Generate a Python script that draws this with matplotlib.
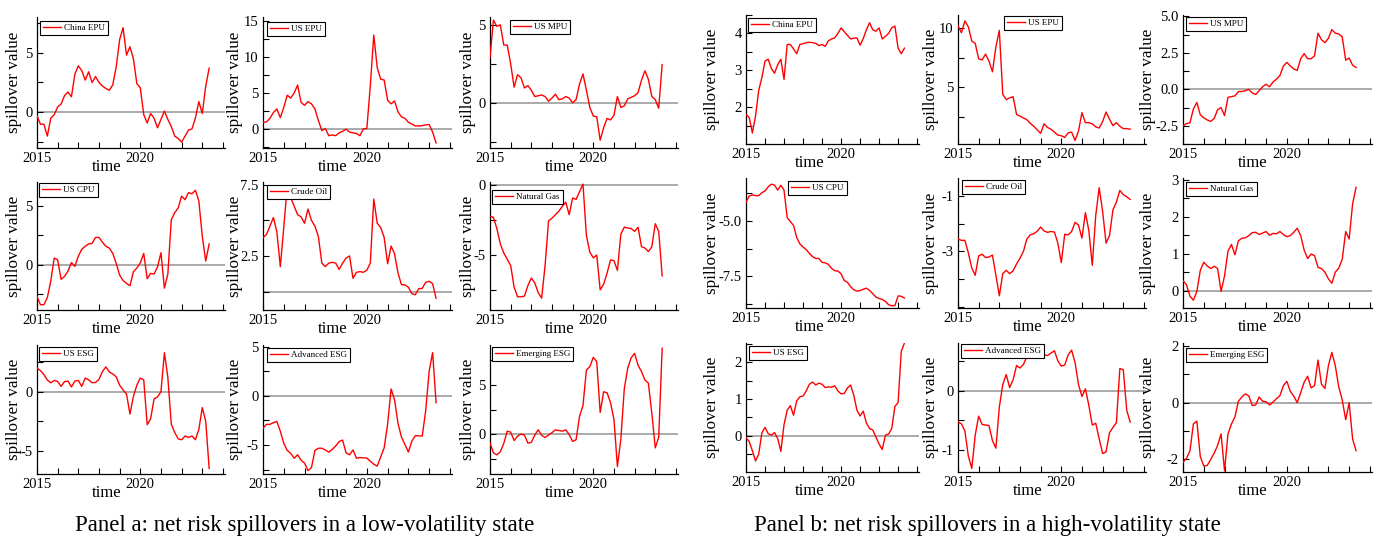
import numpy as np
import matplotlib
matplotlib.use("Agg")
import matplotlib.pyplot as plt
from matplotlib.ticker import FixedLocator, MultipleLocator, FormatStrFormatter

plt.rcParams['font.family'] = ['Liberation Serif', 'DejaVu Serif']
plt.rcParams['axes.unicode_minus'] = False

# ---------------- data: bi-monthly net spillovers, 2015 -> 2023 ----------------
time = 2015 + np.arange(51) / 6.0

# low-volatility state
china_epu_low = [-0.3, -1.0, -1.0, -2.0, -0.5, -0.2, 0.45, 0.7, 1.4, 1.7,
                 1.3, 3.2, 3.9, 3.5, 2.7, 3.4, 2.5, 3.0, 2.5, 2.2,
                 2.0, 1.85, 2.3, 3.8, 6.1, 7.1, 4.8, 5.5, 4.5, 2.4,
                 2.05, -0.2, -0.9, -0.1, -0.5, -1.3, -0.6, 0.1, -0.6, -1.2,
                 -2.0, -2.2, -2.5, -2.0, -1.5, -1.4, -0.5, 0.9, -0.1, 2.2, 3.7]
us_epu_low = [0.95, 1.0, 1.5, 2.3, 2.8, 1.6, 3.0, 4.7, 4.3, 5.0,
              6.1, 3.7, 3.3, 3.8, 3.5, 2.8, 1.2, -0.2, 0.1, -0.9,
              -0.8, -0.9, -0.5, -0.3, 0.0, -0.4, -0.5, -0.6, -0.9, 0.05,
              0.1, 6.0, 13.0, 8.5, 6.9, 6.8, 4.0, 3.5, 3.9, 2.4,
              1.7, 1.5, 0.95, 0.7, 0.45, 0.45, 0.5, 0.6, 0.65, -0.4, -1.9]
us_mpu_low = [2.9, 5.3, 4.9, 5.0, 3.7, 3.7, 2.5, 1.0, 1.8, 1.6,
              0.95, 1.1, 0.8, 0.4, 0.45, 0.5, 0.4, 0.1, 0.3, 0.55,
              0.2, 0.25, 0.4, 0.3, 0.0, 0.2, 1.2, 1.85, 0.8, -0.3,
              -0.85, -0.9, -2.4, -1.6, -1.0, -1.1, -0.8, 0.4, -0.3, -0.2,
              0.25, 0.35, 0.45, 0.65, 1.45, 2.05, 1.5, 0.4, 0.2, -0.35, 2.45]
us_cpu_low = [-2.7, -3.4, -3.4, -2.8, -1.4, 0.55, 0.4, -1.25, -1.0, -0.55,
              0.17, -0.15, 0.7, 1.3, 1.55, 1.75, 1.8, 2.3, 2.3, 1.9,
              1.55, 1.4, 0.95, 0.1, -0.9, -1.35, -1.6, -1.8, -0.6, -0.3,
              0.15, 0.95, -1.2, -0.75, -0.8, -0.2, 1.0, -2.0, -0.8, 3.8,
              4.4, 4.8, 5.8, 5.5, 6.1, 6.0, 6.3, 5.4, 2.4, 0.3, 1.75]
crude_oil_low = [3.8, 4.0, 4.6, 5.2, 4.2, 1.75, 4.5, 7.4, 6.6, 6.0,
                 5.4, 5.25, 4.8, 5.8, 5.0, 4.6, 3.86, 2.0, 1.75, 2.0,
                 2.05, 2.0, 1.55, 2.0, 2.35, 2.5, 0.93, 1.35, 1.4, 1.35,
                 1.5, 2.0, 6.5, 4.8, 4.5, 3.8, 1.95, 3.2, 2.65, 1.3,
                 0.48, 0.47, 0.3, -0.15, -0.23, 0.2, 0.22, 0.65, 0.72, 0.55, -0.48]
natural_gas_low = [-2.2, -2.3, -3.1, -4.2, -4.85, -5.3, -5.75, -7.3, -8.0, -8.0,
                   -7.95, -7.2, -6.65, -7.0, -7.7, -8.1, -5.75, -2.55, -2.35, -2.1,
                   -1.85, -1.5, -1.2, -2.1, -0.9, -1.0, -0.45, 0.1, -3.6, -4.8,
                   -5.2, -5.0, -7.5, -7.1, -6.3, -5.35, -5.4, -6.1, -3.5, -3.0,
                   -3.05, -3.1, -3.3, -3.0, -4.4, -4.5, -4.75, -4.4, -2.75, -3.3, -6.5]
us_esg_low = [2.0, 1.78, 1.45, 0.98, 0.75, 0.95, 0.86, 0.45, 0.85, 0.9,
              0.4, 0.9, 0.95, 0.45, 1.15, 1.0, 0.76, 0.78, 1.04, 1.7,
              2.1, 1.67, 1.5, 1.26, 0.55, 0.15, -0.2, -1.9, -0.4, 0.56,
              1.15, 1.0, -2.8, -2.3, -0.6, -0.45, 0.0, 3.3, 1.2, -2.75,
              -3.45, -4.0, -4.07, -3.75, -3.88, -3.75, -4.07, -3.2, -1.35, -2.5, -6.5]
advanced_esg_low = [-3.3, -2.9, -2.9, -2.73, -2.6, -3.6, -4.83, -5.55, -5.85, -6.35,
                    -6.0, -6.55, -6.85, -7.6, -7.3, -5.55, -5.33, -5.33, -5.5, -5.73,
                    -5.45, -5.1, -4.65, -4.5, -5.8, -6.0, -5.5, -6.35, -6.28, -6.3,
                    -6.33, -6.65, -6.95, -7.15, -6.2, -5.3, -2.9, 0.7, -0.4, -2.8,
                    -4.2, -4.95, -5.72, -4.6, -4.05, -4.07, -4.1, -1.5, 2.5, 4.4, -0.7]
emerging_esg_low = [-0.9, -1.9, -2.1, -1.8, -0.95, 0.3, 0.2, -0.65, -0.2, 0.0,
                    -0.1, -0.91, -0.84, -0.1, 0.44, -0.12, -0.34, -0.1, 0.15, 0.44,
                    0.36, 0.3, 0.44, -0.05, -0.74, -0.57, 1.8, 2.9, 6.5, 6.86,
                    7.8, 7.36, 2.2, 4.3, 4.2, 3.2, 1.5, -3.3, -0.5, 4.6,
                    6.7, 7.75, 8.2, 7.0, 6.35, 5.5, 5.17, 2.1, -1.4, -0.3, 8.72]

# high-volatility state
china_epu_high = [1.8, 1.72, 1.3, 1.75, 2.45, 2.8, 3.25, 3.3, 3.05, 2.92,
                  3.15, 3.3, 2.75, 3.7, 3.7, 3.58, 3.45, 3.7, 3.72, 3.75,
                  3.76, 3.75, 3.73, 3.67, 3.7, 3.65, 3.8, 3.85, 3.88, 4.0,
                  4.15, 4.05, 3.95, 3.85, 3.87, 3.88, 3.68, 3.86, 4.1, 4.29,
                  4.1, 4.06, 4.15, 3.85, 3.92, 4.0, 4.15, 4.2, 3.6, 3.45, 3.6]
us_epu_high = [10.2, 9.6, 10.6, 10.1, 8.9, 8.7, 7.4, 7.3, 7.8, 7.2,
               6.3, 8.4, 9.8, 4.4, 3.95, 4.1, 4.2, 2.7, 2.55, 2.4,
               2.25, 1.95, 1.7, 1.4, 1.1, 1.9, 1.6, 1.45, 1.2, 0.95,
               0.9, 0.75, 1.15, 1.2, 0.5, 1.3, 2.85, 2.0, 2.0, 1.9,
               1.65, 1.55, 2.1, 2.9, 2.3, 1.75, 2.0, 1.7, 1.5, 1.5, 1.45]
us_mpu_high = [-2.5, -2.35, -2.3, -1.35, -0.9, -1.75, -1.95, -2.1, -2.2, -2.0,
               -1.4, -1.25, -1.8, -0.55, -0.5, -0.45, -0.15, -0.15, -0.1, 0.0,
               -0.25, -0.35, -0.1, 0.18, 0.35, 0.18, 0.5, 0.7, 0.95, 1.6,
               1.85, 1.6, 1.4, 1.3, 2.1, 2.45, 2.1, 2.1, 2.3, 3.85,
               3.4, 3.2, 3.5, 4.1, 3.85, 3.8, 3.6, 2.0, 2.15, 1.65, 1.5]
us_cpu_high = [-4.15, -3.87, -3.82, -3.85, -3.85, -3.72, -3.64, -3.45, -3.33, -3.37,
               -3.6, -3.38, -3.6, -4.85, -5.03, -5.2, -5.75, -6.04, -6.18, -6.3,
               -6.47, -6.62, -6.7, -6.7, -6.88, -6.9, -6.97, -7.15, -7.26, -7.27,
               -7.4, -7.7, -7.78, -7.98, -8.12, -8.18, -8.16, -8.1, -8.05, -8.15,
               -8.3, -8.45, -8.52, -8.56, -8.65, -8.8, -8.85, -8.84, -8.4, -8.42, -8.5]
crude_oil_high = [-2.55, -2.6, -2.6, -3.05, -3.6, -3.86, -3.16, -3.1, -3.22, -3.2,
                  -3.13, -3.85, -4.6, -3.8, -3.68, -3.8, -3.7, -3.45, -3.24, -3.0,
                  -2.55, -2.4, -2.36, -2.27, -2.12, -2.26, -2.31, -2.28, -2.3, -2.7,
                  -3.4, -2.38, -2.4, -2.28, -1.95, -2.05, -2.52, -1.6, -2.25, -3.5,
                  -1.7, -0.7, -1.55, -2.7, -2.43, -1.5, -1.22, -0.8, -0.95, -1.03, -1.12]
natural_gas_high = [0.27, 0.16, -0.15, -0.26, -0.02, 0.55, 0.77, 0.67, 0.6, 0.66,
                    0.6, -0.02, 0.4, 1.07, 1.25, 0.97, 1.35, 1.42, 1.43, 1.49,
                    1.57, 1.58, 1.52, 1.56, 1.6, 1.5, 1.55, 1.54, 1.6, 1.52,
                    1.46, 1.49, 1.58, 1.69, 1.49, 1.1, 0.87, 0.99, 0.95, 0.63,
                    0.6, 0.5, 0.32, 0.2, 0.5, 0.61, 0.85, 1.6, 1.4, 2.35, 2.8]
us_esg_high = [-0.05, -0.15, -0.4, -0.68, -0.5, 0.08, 0.23, 0.06, 0.02, 0.09,
               -0.07, -0.42, 0.3, 0.7, 0.82, 0.56, 0.95, 1.06, 1.08, 1.22,
               1.4, 1.46, 1.38, 1.43, 1.4, 1.31, 1.33, 1.32, 1.36, 1.22,
               1.14, 1.15, 1.3, 1.38, 1.11, 0.7, 0.54, 0.67, 0.35, 0.2,
               0.16, -0.03, -0.22, -0.37, 0.02, 0.05, 0.2, 0.8, 0.9, 2.29, 2.52]
advanced_esg_high = [-0.53, -0.56, -0.68, -1.1, -1.31, -0.75, -0.43, -0.57, -0.58, -0.59,
                     -0.84, -0.97, -0.28, 0.1, 0.27, 0.05, 0.18, 0.42, 0.38, 0.44,
                     0.57, 0.67, 0.64, 0.71, 0.65, 0.6, 0.59, 0.63, 0.67, 0.5,
                     0.41, 0.43, 0.6, 0.68, 0.47, 0.1, -0.1, 0.03, -0.25, -0.58,
                     -0.55, -0.81, -1.06, -1.03, -0.71, -0.62, -0.54, 0.37, 0.35, -0.33, -0.53]
emerging_esg_high = [-2.1, -1.96, -1.7, -0.75, -0.65, -1.9, -2.23, -2.21, -2.0, -1.78,
                     -1.5, -1.1, -2.4, -1.1, -0.75, -0.5, 0.05, 0.2, 0.31, 0.24,
                     -0.1, -0.08, 0.2, 0.05, 0.03, -0.08, 0.02, 0.14, 0.25, 0.6,
                     0.75, 0.4, 0.23, 0.0, 0.35, 0.72, 0.93, 0.52, 0.6, 1.5,
                     0.65, 0.5, 1.3, 1.77, 1.3, 0.55, 0.1, -0.6, 0.0, -1.28, -1.69]

names = ["China EPU", "US EPU", "US MPU", "US CPU", "Crude Oil", "Natural Gas",
         "US ESG", "Advanced ESG", "Emerging ESG"]
low_series = [china_epu_low, us_epu_low, us_mpu_low, us_cpu_low, crude_oil_low,
              natural_gas_low, us_esg_low, advanced_esg_low, emerging_esg_low]
high_series = [china_epu_high, us_epu_high, us_mpu_high, us_cpu_high, crude_oil_high,
               natural_gas_high, us_esg_high, advanced_esg_high, emerging_esg_high]

# y axis settings: (ylim, major ticks, minor step, format)
low_axes = [((-3.0, 8.0), [0, 5], 2.5, '%g'),
            ((-2.6, 15.5), [0, 5, 10, 15], 2.5, '%g'),
            ((-2.9, 5.5), [0, 5], 2.5, '%g'),
            ((-3.85, 7.0), [0, 5], 2.5, '%g'),
            ((-1.3, 7.7), [2.5, 7.5], 2.5, '%.1f'),
            ((-8.95, 0.25), [-5, 0], 2.5, '%g'),
            ((-6.97, 3.95), [-5, 0], 2.5, '%g'),
            ((-7.95, 5.17), [-5, 0, 5], 2.5, '%g'),
            ((-4.05, 9.05), [0, 5], 2.5, '%g')]
high_axes = [((1.0, 4.5), [2, 3, 4], 0.5, '%g'),
             ((0.2, 11.1), [5, 10], 2.5, '%g'),
             ((-3.75, 5.1), [-2.5, 0.0, 2.5, 5.0], 1.25, '%.1f'),
             ((-8.95, -3.05), [-7.5, -5.0], 1.25, '%.1f'),
             ((-5.04, -0.35), [-3, -1], 1.0, '%g'),
             ((-0.47, 3.05), [0, 1, 2, 3], 0.5, '%g'),
             ((-0.98, 2.52), [0, 1, 2], 0.5, '%g'),
             ((-1.37, 0.8), [-1, 0], 0.5, '%g'),
             ((-2.44, 2.1), [-2, 0, 2], 1.0, '%g')]

# ---------------- layout (pixels) ----------------
W, H = 1378, 544
fig = plt.figure(figsize=(W / 100, H / 100), dpi=100)

col_px = {'a': [(37, 225), (263, 452), (490, 678)],
          'b': [(746, 919), (958, 1146), (1183, 1372)]}
row_px = {'a': [(17, 148), (182, 310), (345, 474)],
          'b': [(15, 144), (178, 308), (343, 472)]}
ylab_off = {'a': [23, 28, 22], 'b': [34, 27, 35]}
leg_off = {'a': [(3, 4), (4, 5), (20, 3), (2, 1), (4, 3), (2, 8), (2, 2), (4, 3), (2, 2)],
           'b': [(2, 3), (46, 1), (3, 2), (42, 3), (4, 2), (3, 4), (3, 3), (3, 1), (3, 5)]}


def draw(panel, idx, name, values, ycfg):
    r, c = divmod(idx, 3)
    x0, x1 = col_px[panel][c]
    y0, y1 = row_px[panel][r]
    w, h = x1 - x0, y1 - y0
    ax = fig.add_axes([x0 / W, 1 - y1 / H, w / W, h / H])
    ylim, majors, mstep, fmt = ycfg
    if ylim[0] < 0 < ylim[1]:
        ax.axhline(0, color='#9c9c9c', lw=1.2, zorder=1)
    ax.plot(time, values, color='red', lw=1.0, label=name, zorder=3)
    ax.set_xlim(2015, 2024.1)
    ax.set_ylim(*ylim)
    ax.xaxis.set_major_locator(FixedLocator([2015, 2020]))
    ax.xaxis.set_minor_locator(MultipleLocator(1))
    ax.yaxis.set_major_locator(FixedLocator(majors))
    ax.yaxis.set_minor_locator(MultipleLocator(mstep))
    ax.yaxis.set_major_formatter(FormatStrFormatter(fmt))
    ax.xaxis.set_major_formatter(FormatStrFormatter('%d'))
    for s in ('top', 'right'):
        ax.spines[s].set_visible(False)
    for s in ('left', 'bottom'):
        ax.spines[s].set_linewidth(0.9)
    ax.tick_params(which='both', direction='in', length=4, width=0.8,
                   labelsize=10.5, pad=3)
    ax.set_ylabel('spillover value', fontsize=12.3)
    ax.yaxis.set_label_coords(-ylab_off[panel][c] / w, 0.5)
    ax.yaxis.label.set_va('center')
    ax.set_xlabel('time', fontsize=12)
    ax.xaxis.set_label_coords(0.37, -19 / h)
    ax.xaxis.label.set_va('center')
    dx, dy = leg_off[panel][idx]
    leg = ax.legend(loc='upper left', bbox_to_anchor=(dx / w, 1 - dy / h),
                    borderaxespad=0, frameon=True, fancybox=False,
                    edgecolor='black', fontsize=6.5, handlelength=2.0,
                    handletextpad=0.4, borderpad=0.3, framealpha=1)
    leg.get_frame().set_linewidth(0.8)


for i in range(9):
    draw('a', i, names[i], low_series[i], low_axes[i])
    draw('b', i, names[i], high_series[i], high_axes[i])

fig.text(305 / W, 1 - 526 / H, 'Panel a: net risk spillovers in a low-volatility state',
         ha='center', va='center', fontsize=16.5)
fig.text(987 / W, 1 - 526 / H, 'Panel b: net risk spillovers in a high-volatility state',
         ha='center', va='center', fontsize=16.5)

fig.savefig('out.png', dpi=100)
